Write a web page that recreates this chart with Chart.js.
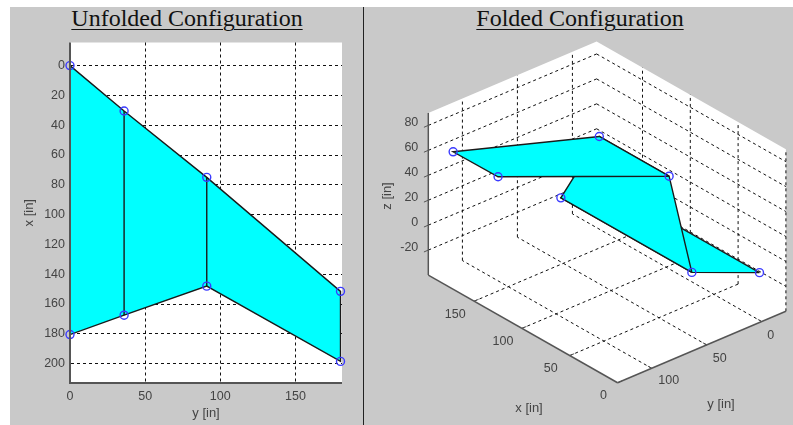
<!DOCTYPE html>
<html>
<head>
<meta charset="utf-8">
<title>Unfolded and Folded Configuration</title>
<style>
    html, body { margin: 0; padding: 0; background: #fff; overflow: hidden; }
    #panel { position: absolute; left: 10px; top: 7px; width: 783px; height: 418px; background: #c9c9c9; }
    #divider { position: absolute; left: 363px; top: 7px; width: 1px; height: 418px; background: #222; }
    .title { position: absolute; top: 5px; width: 340px; text-align: center;
        font: 24px "Liberation Serif", serif; color: #111; }
    .title span { text-decoration: underline; text-decoration-thickness: 1px; text-underline-offset: 3px; }
    canvas { position: absolute; filter: blur(0.55px); }
</style>
</head>
<body>
<div id="panel"></div>
<div id="divider"></div>
<div class="title" style="left:17px"><span>Unfolded Configuration</span></div>
<div class="title" style="left:410px"><span>Folded Configuration</span></div>
<canvas id="unfolded" width="353" height="395" style="left:10px;top:30px"></canvas>
<canvas id="folded" width="429" height="395" style="left:364px;top:30px"></canvas>
<script src="https://cdn.jsdelivr.net/npm/chart.js@4"></script>
<script>
// Uzly plechu: 0-3 horní hrana, 4-7 dolní hrana
var nodeX = [0, 30.5, 75, 151.5, 180.5, 167.5, 148, 198.5];
var nodeY = [0, 36, 91, 180, 0, 36, 91, 180];

// Stejné uzly po složení
var foldedX = [0, 30.5, 75, 151.5, 180.5, 167.5, 148, 198.5];
var foldedY = [2, 37, 19, 108, 2, 37, 19, 108];
var foldedZ = [0, 0, 51, 50.5, 0, 0, 51, 50];

var outlineNodes = [0, 1, 2, 3, 7, 6, 5, 4, 0];
var foldLines = [[1, 5], [2, 6]];
var foldedPanels = [[2, 6, 7, 3, 2], [1, 5, 6, 2, 1], [0, 1, 5, 4, 0]]; // horní panel první
var hiddenNodes = [4];

// Popisky os
var xTicks2d = [0, 20, 40, 60, 80, 100, 120, 140, 160, 180, 200];
var yTicks2d = [0, 50, 100, 150];
var xTicks3d = [0, 50, 100, 150];
var yTicks3d = [0, 50, 100];
var zTicks3d = [-20, 0, 20, 40, 60, 80];

var xLimit3d = 198, yMin3d = -22, yMax3d = 131, zMin3d = -40, zMax3d = 90;

var axisColor = '#555555';
var gridColor = '#111111';
var edgeColor = '#1a1a1a';
var textColor = '#444444';
var nodeColor = '#3a3aff';
var fillColor = '#00ffff';
var dashed = [3, 3];
var labelFont = '12.5px "Liberation Sans", Arial, sans-serif';
var axisTitleFont = '13px "Liberation Sans", Arial, sans-serif';
var scaleFont = { family: '"Liberation Sans"', size: 12.5 };
var scaleTitleFont = { family: '"Liberation Sans"', size: 13 };

function nodePoint(i) {
    return { x: nodeY[i], y: nodeX[i] };
}

// Projekce 3D -> souřadnice stránky
function project(x, y, z) {
    return {
        x: 761.7 - 0.956 * x - 1.1 * y,
        y: 271.7 - 0.544 * x + 0.467 * y - 1.247 * z
    };
}

function foldedPoint(i) {
    return project(foldedX[i], foldedY[i], foldedZ[i]);
}

// ---------- Levý graf ----------
var unfoldedSets = [{
    data: nodeX.map(function (v, i) { return nodePoint(i); }),
    showLine: false,
    pointRadius: 4,
    pointBorderWidth: 1.4,
    pointBorderColor: nodeColor,
    pointBackgroundColor: 'rgba(0,0,0,0)',
    clip: false
}];

foldLines.forEach(function (pair) {
    unfoldedSets.push({
        data: pair.map(nodePoint),
        showLine: true,
        borderColor: edgeColor,
        borderWidth: 1.4,
        pointRadius: 0,
        clip: false
    });
});

unfoldedSets.push({
    data: outlineNodes.map(nodePoint),
    showLine: true,
    fill: 'shape',
    backgroundColor: fillColor,
    borderColor: edgeColor,
    borderWidth: 1.4,
    pointRadius: 0,
    clip: false
});

new Chart(document.getElementById('unfolded'), {
    type: 'scatter',
    data: { datasets: unfoldedSets },
    options: {
        responsive: false,
        animation: false,
        layout: { autoPadding: false, padding: { left: 0, right: 21, top: 10, bottom: 0 } },
        plugins: { legend: { display: false }, tooltip: { enabled: false } },
        scales: {
            x: {
                type: 'linear',
                min: 0,
                max: 181,
                afterBuildTicks: function (scale) {
                    scale.ticks = yTicks2d.map(function (v) { return { value: v }; });
                },
                afterFit: function (scale) { scale.height = 42; },
                grid: {
                    drawTicks: false,
                    color: function (c) { return c.tick && c.tick.value === 0 ? 'rgba(0,0,0,0)' : gridColor; },
                    lineWidth: 1
                },
                border: { color: 'rgba(0,0,0,0)', dash: dashed },
                ticks: { color: textColor, font: scaleFont, padding: 6, maxRotation: 0 },
                title: { display: true, text: 'y [in]', color: textColor, font: scaleTitleFont, padding: { top: 2, bottom: 4 } }
            },
            y: {
                type: 'linear',
                reverse: true,
                min: -15.5,
                max: 213,
                afterBuildTicks: function (scale) {
                    scale.ticks = xTicks2d.map(function (v) { return { value: v }; });
                },
                afterFit: function (scale) { scale.width = 60; },
                grid: { drawTicks: false, color: gridColor, lineWidth: 1 },
                border: { color: 'rgba(0,0,0,0)', dash: dashed },
                ticks: { color: textColor, font: scaleFont, padding: 5 },
                title: { display: true, text: 'x [in]', color: textColor, font: scaleTitleFont, padding: { top: 12, bottom: 0 } }
            }
        }
    },
    plugins: [{
        // Bílá plocha grafu a plné osy
        id: 'plotFrame',
        beforeDraw: function (chart) {
            var a = chart.chartArea, c = chart.ctx;
            c.save();
            c.fillStyle = '#ffffff';
            c.fillRect(a.left, a.top, a.right - a.left, a.bottom - a.top);
            c.restore();
        },
        afterDatasetsDraw: function (chart) {
            var a = chart.chartArea, c = chart.ctx;
            c.save();
            c.strokeStyle = axisColor;
            c.lineWidth = 2;
            c.beginPath();
            c.moveTo(a.left, a.top);
            c.lineTo(a.left, a.bottom);
            c.lineTo(a.right, a.bottom);
            c.stroke();
            c.restore();
        }
    }]
});

// ---------- Pravý graf ----------
function line3d(a, b, color, width, dash) {
    return {
        data: [project(a[0], a[1], a[2]), project(b[0], b[1], b[2])],
        showLine: true,
        borderColor: color,
        borderWidth: width,
        borderDash: dash || [],
        pointRadius: 0
    };
}

var foldedSets = [];

// Uzly
foldedSets.push({
    data: foldedX.map(function (v, i) { return foldedPoint(i); }),
    showLine: false,
    pointRadius: function (c) { return hiddenNodes.indexOf(c.dataIndex) >= 0 ? 0 : 4; },
    pointBorderWidth: 1.4,
    pointBorderColor: nodeColor,
    pointBackgroundColor: 'rgba(0,0,0,0)'
});

// Panely
foldedPanels.forEach(function (panel) {
    foldedSets.push({
        data: panel.map(foldedPoint),
        showLine: true,
        fill: 'shape',
        backgroundColor: fillColor,
        borderColor: edgeColor,
        borderWidth: 1.4,
        pointRadius: 0
    });
});

// Plné osy a značky
foldedSets.push(line3d([xLimit3d, yMax3d, zMin3d], [0, yMax3d, zMin3d], axisColor, 1.5));
foldedSets.push(line3d([0, yMax3d, zMin3d], [0, yMin3d, zMin3d], axisColor, 1.5));
foldedSets.push(line3d([xLimit3d, yMax3d, zMin3d], [xLimit3d, yMax3d, zMax3d], axisColor, 1.5));
xTicks3d.forEach(function (v) {
    foldedSets.push(line3d([v, yMax3d, zMin3d], [v, yMax3d - 4, zMin3d], axisColor, 1));
});
yTicks3d.forEach(function (v) {
    foldedSets.push(line3d([0, v, zMin3d], [4, v, zMin3d], axisColor, 1));
});
zTicks3d.forEach(function (v) {
    foldedSets.push(line3d([xLimit3d, yMax3d, v], [xLimit3d, yMax3d + 4, v], axisColor, 1));
});

// Čárkovaná mřížka: stěny a podlaha
zTicks3d.forEach(function (v) {
    foldedSets.push(line3d([xLimit3d, yMax3d, v], [xLimit3d, yMin3d, v], gridColor, 1, dashed));
    foldedSets.push(line3d([xLimit3d, yMin3d, v], [0, yMin3d, v], gridColor, 1, dashed));
});
yTicks3d.forEach(function (v) {
    foldedSets.push(line3d([xLimit3d, v, zMin3d], [xLimit3d, v, zMax3d], gridColor, 1, dashed));
    foldedSets.push(line3d([0, v, zMin3d], [xLimit3d, v, zMin3d], gridColor, 1, dashed));
});
xTicks3d.forEach(function (v) {
    foldedSets.push(line3d([v, yMin3d, zMin3d], [v, yMin3d, zMax3d], gridColor, 1, dashed));
    if (v > 0) {
        foldedSets.push(line3d([v, yMin3d, zMin3d], [v, yMax3d, zMin3d], gridColor, 1, dashed));
    }
});

// Bílé pozadí kvádru
foldedSets.push({
    data: [
        project(xLimit3d, yMax3d, zMin3d),
        project(xLimit3d, yMax3d, zMax3d),
        project(xLimit3d, yMin3d, zMax3d),
        project(0, yMin3d, zMax3d),
        project(0, yMin3d, zMin3d),
        project(0, yMax3d, zMin3d),
        project(xLimit3d, yMax3d, zMin3d)
    ],
    showLine: true,
    fill: 'shape',
    backgroundColor: '#ffffff',
    borderWidth: 0,
    pointRadius: 0
});

new Chart(document.getElementById('folded'), {
    type: 'scatter',
    data: { datasets: foldedSets },
    options: {
        responsive: false,
        animation: false,
        layout: { autoPadding: false },
        plugins: { legend: { display: false }, tooltip: { enabled: false } },
        scales: {
            x: { type: 'linear', display: false, min: 364, max: 793 },
            y: { type: 'linear', display: false, reverse: true, min: 30, max: 425 }
        }
    },
    plugins: [{
        // Popisky os v projekci
        id: 'labels3d',
        afterDraw: function (chart) {
            var c = chart.ctx, sx = chart.scales.x, sy = chart.scales.y;
            function put(text, px, py, align, rotate, font) {
                c.save();
                c.translate(sx.getPixelForValue(px), sy.getPixelForValue(py));
                if (rotate) { c.rotate(-Math.PI / 2); }
                c.fillStyle = textColor;
                c.font = font || labelFont;
                c.textAlign = align;
                c.textBaseline = 'middle';
                c.fillText(text, 0, 0);
                c.restore();
            }
            xTicks3d.forEach(function (v) {
                var p = project(v, yMax3d, zMin3d);
                put(String(v), p.x + (v === 0 ? -14 : -19), p.y + 13, 'center');
            });
            yTicks3d.forEach(function (v) {
                var p = project(0, v, zMin3d);
                var dx = v === 0 ? 9 : (v === 50 ? 13 : 17);
                put(String(v), p.x + dx, p.y + (v === 100 ? 12 : 14), 'center');
            });
            zTicks3d.forEach(function (v) {
                var p = project(xLimit3d, yMax3d, v);
                put(String(v), p.x - 10, p.y - 3, 'right');
            });
            put('x [in]', 529, 408, 'center', false, axisTitleFont);
            put('y [in]', 721, 404, 'center', false, axisTitleFont);
            put('z [in]', 387, 196, 'center', true, axisTitleFont);
        }
    }]
});
</script>
</body>
</html>
